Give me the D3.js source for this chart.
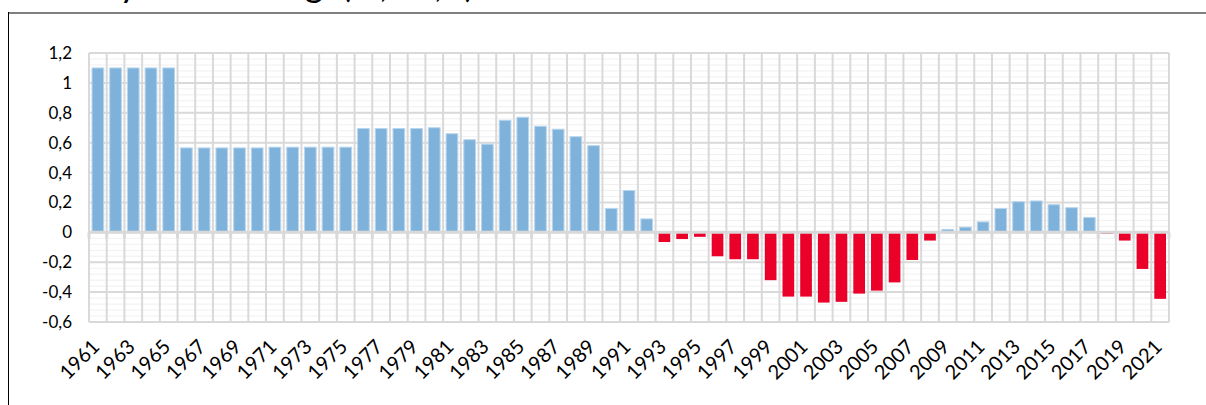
<!DOCTYPE html>
<html>
<head>
<meta charset="utf-8">
<script src="https://cdn.jsdelivr.net/npm/d3@7"></script>
<style>
  body { margin: 0; background: #fff; }
  svg text { font-family: Lato, "Open Sans", sans-serif; fill: #000; }
</style>
</head>
<body>
<script>
// år och värden (procent)
var years = d3.range(1961, 2022).map(String);
var values = [
  1.10, 1.10, 1.10, 1.10, 1.10,
  0.565, 0.565, 0.565, 0.565, 0.565,
  0.57, 0.57, 0.57, 0.57, 0.57,
  0.695, 0.695, 0.695, 0.695, 0.70,
  0.66, 0.62, 0.59, 0.75, 0.77, 0.71, 0.69, 0.64, 0.58,
  0.16, 0.28, 0.09,
  -0.065, -0.045, -0.03, -0.16, -0.18, -0.18, -0.32, -0.43,
  -0.43, -0.47, -0.465, -0.41, -0.39, -0.335, -0.185, -0.055,
  0.02, 0.035, 0.07, 0.16, 0.205, 0.21, 0.185, 0.165, 0.10,
  -0.01, -0.055, -0.245, -0.445
];
var yTicks = [-0.6, -0.4, -0.2, 0, 0.2, 0.4, 0.6, 0.8, 1, 1.2];
var titleText = "Dynamika wagi (%, r-r, t)";

function drawChart() {
    var width = 1206, height = 405;
    var mLeft = 89, mRight = 1169, mTop = 53, mBottom = 322;

    var svg = d3.select("body").append("svg")
        .attr("width", width).attr("height", height)
        .style("display", "block");

    // titel (bara nedersta delen syns, resten är utanför bilden)
    svg.append("text")
        .attr("x", 92).attr("y", -3)
        .style("font-size", "36px")
        .text(titleText);

    // ram
    svg.append("line").attr("x1", 8).attr("x2", width).attr("y1", 13).attr("y2", 13)
        .attr("stroke", "#7f7f7f").attr("stroke-width", 2);
    svg.append("line").attr("x1", 8.5).attr("x2", 8.5).attr("y1", 12).attr("y2", height)
        .attr("stroke", "#000").attr("stroke-width", 1);

    var x = d3.scaleBand().domain(years).range([mLeft, mRight]).paddingInner(0.34).paddingOuter(0.17);
    var slot = d3.scaleBand().domain(years).range([mLeft, mRight]);
    var y = d3.scaleLinear().domain([-0.6, 1.2]).range([mBottom, mTop]);

    var grid = svg.append("g");
    // små rutnätslinjer
    grid.selectAll(".minor").data(d3.range(-0.6, 1.2001, 0.04)).enter()
        .append("line")
        .attr("x1", mLeft).attr("x2", mRight)
        .attr("y1", function(d) { return y(d); }).attr("y2", function(d) { return y(d); })
        .attr("stroke", "#f0f0f0").attr("stroke-width", 1);
    // stora rutnätslinjer
    grid.selectAll(".major").data(yTicks).enter()
        .append("line")
        .attr("x1", mLeft).attr("x2", mRight)
        .attr("y1", function(d) { return y(d); }).attr("y2", function(d) { return y(d); })
        .attr("stroke", "#d9d9d9").attr("stroke-width", 2);
    // lodräta linjer
    var edges = years.map(function(d) { return slot(d); }).concat([mRight]);
    grid.selectAll(".vert").data(edges).enter()
        .append("line")
        .attr("x1", function(d) { return d; }).attr("x2", function(d) { return d; })
        .attr("y1", mTop).attr("y2", mBottom)
        .attr("stroke", "#d9d9d9").attr("stroke-width", 2);

    // staplar
    svg.selectAll(".bar").data(values).enter()
        .append("rect")
        .attr("x", function(d, i) { return x(years[i]); })
        .attr("width", x.bandwidth())
        .attr("y", function(d) { return d >= 0 ? y(d) : y(0); })
        .attr("height", function(d) { return Math.abs(y(d) - y(0)); })
        .attr("fill", function(d) { return d >= 0 ? "#7fb2da" : "#ea0029"; })
        .attr("stroke", function(d) { return d >= 0 ? "#b9d6ee" : "none"; })
        .attr("stroke-width", 1);

    // nollinje med tickar
    svg.append("line").attr("x1", mLeft).attr("x2", mRight)
        .attr("y1", y(0)).attr("y2", y(0))
        .attr("stroke", "#d9d9d9").attr("stroke-width", 3);
    svg.selectAll(".tick0").data(edges).enter()
        .append("line")
        .attr("x1", function(d) { return d; }).attr("x2", function(d) { return d; })
        .attr("y1", y(0)).attr("y2", y(0) + 6)
        .attr("stroke", "#d9d9d9").attr("stroke-width", 3);

    // y-axel
    var fmt = function(d) { return String(+d.toFixed(1)).replace(".", ","); };
    svg.selectAll(".ylab").data(yTicks).enter()
        .append("text")
        .attr("x", 72)
        .attr("y", function(d) { return y(d); })
        .attr("dy", "0.35em")
        .attr("text-anchor", "end")
        .style("font-size", "17px")
        .text(fmt);

    // x-axel, varannat år
    svg.selectAll(".xlab").data(years.filter(function(d, i) { return i % 2 === 0; })).enter()
        .append("text")
        .attr("transform", function(d) {
            return "translate(" + (slot(d) + slot.bandwidth() / 2 - 2) + "," + (mBottom + 21) + ") rotate(-45)";
        })
        .attr("text-anchor", "end")
        .attr("dy", "0.35em")
        .style("font-size", "20px")
        .text(function(d) { return d; });
}

drawChart();
</script>
</body>
</html>
